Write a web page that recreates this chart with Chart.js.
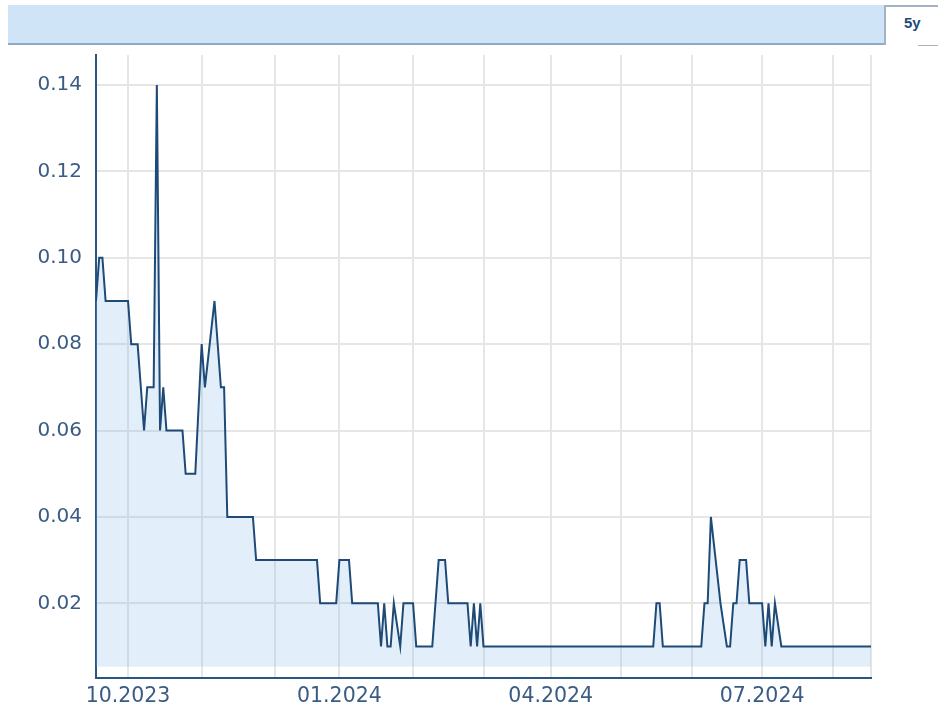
<!DOCTYPE html>
<html>
<head>
<meta charset="utf-8">
<script src="https://cdn.jsdelivr.net/npm/chart.js@4.4.1/dist/chart.umd.min.js"></script>
<style>
  html, body { margin: 0; padding: 0; background: #ffffff; }
  #wrap { position: relative; width: 938px; height: 720px; overflow: hidden; }
  #c { position: absolute; left: 0; top: 0; }
  #bar { position: absolute; left: 8px; top: 5px; width: 876px; height: 38px;
         background: #cfe5f7; border-bottom: 2px solid #8eaac6; }
  #tab { position: absolute; left: 884px; top: 5px; width: 54px; height: 40px;
         background: #ffffff; border-top: 2px solid #a3b3c3; border-left: 2px solid #a3b3c3; box-sizing: border-box; }
  #tab span { position: absolute; left: 18px; top: 7px; font: bold 15px "Liberation Sans", Arial, sans-serif; color: #1c4a7c; }
  #tabline { position: absolute; left: 918px; top: 45px; width: 20px; height: 1px; background: #a3b3c3; }
</style>
</head>
<body>
<div id="wrap">
  <canvas id="c" width="938" height="720"></canvas>
  <div id="bar"></div>
  <div id="tab"><span>5y</span></div>
  <div id="tabline"></div>
</div>
<script>
// Trading-day index of each change point and the price at that point
const dayIndex = [0,1,2,3,10,11,13,15,16,18,19,20,21,22,27,28,31,33,34,37,
                  39,40,41,49,50,69,70,75,76,79,80,88,89,90,91,92,93,95,96,99,
                  100,105,107,109,110,116,117,118,119,120,121,174,175,176,177,189,190,191,192,195,
                  197,198,199,200,201,203,204,208,209,210,211,212,214,242];
const price = [0.09,0.10,0.10,0.09,0.09,0.08,0.08,0.06,0.07,0.07,0.14,0.06,0.07,0.06,0.06,0.05,0.05,0.08,0.07,0.09,
               0.07,0.07,0.04,0.04,0.03,0.03,0.02,0.02,0.03,0.03,0.02,0.02,0.01,0.02,0.01,0.01,0.02,0.01,0.02,0.02,
               0.01,0.01,0.03,0.03,0.02,0.02,0.01,0.02,0.01,0.02,0.01,0.01,0.02,0.02,0.01,0.01,0.02,0.02,0.04,0.02,
               0.01,0.01,0.02,0.02,0.03,0.03,0.02,0.02,0.01,0.02,0.01,0.02,0.01,0.01];
// First trading day of each month (grid lines) and their labels
const monthStart = [10,33,56,76,99,121,142,164,186,208,230];
const monthLabel = ['10.2023','11.2023','12.2023','01.2024','02.2024','03.2024','04.2024','05.2024','06.2024','07.2024','08.2024'];
const shownLabels = ['10.2023','01.2024','04.2024','07.2024'];
const yTickValues = [0.02,0.04,0.06,0.08,0.10,0.12,0.14];
const lastDay = 242;

const points = dayIndex.map((d, i) => ({ x: d, y: price[i] }));
const labelColor = '#3a5c84';
const axisColor = '#2a5682';
const gridColor = '#e6e6e6';

new Chart(document.getElementById('c'), {
  type: 'line',
  data: {
    datasets: [{
      data: points,
      borderColor: '#1d4a77',
      borderWidth: 2,
      backgroundColor: 'rgba(130,185,235,0.23)',
      fill: { value: 0.00532 },
      pointRadius: 0,
      tension: 0
    }]
  },
  options: {
    responsive: false,
    devicePixelRatio: 1,
    animation: false,
    layout: { padding: { left: 0, right: 67, top: 55, bottom: 0 } },
    plugins: { legend: { display: false }, tooltip: { enabled: false } },
    scales: {
      x: {
        type: 'linear',
        min: 0,
        max: lastDay,
        afterFit: s => { s.height = 42.5; },
        afterBuildTicks: s => {
          s.ticks = monthStart.map(v => ({ value: v })).concat([{ value: lastDay }]);
        },
        grid: { color: gridColor, lineWidth: 2, drawTicks: false },
        border: { color: axisColor, width: 2 },
        ticks: {
          autoSkip: false,
          maxRotation: 0,
          padding: 7,
          color: labelColor,
          font: { family: 'DejaVu Sans', size: 20.5 },
          callback: (v) => {
            const i = monthStart.indexOf(v);
            if (i < 0) return '';
            return shownLabels.includes(monthLabel[i]) ? monthLabel[i] : '';
          }
        }
      },
      y: {
        min: 0.00282,
        max: 0.14695,
        afterFit: s => { s.width = 96; },
        afterBuildTicks: s => { s.ticks = yTickValues.map(v => ({ value: v })); },
        grid: { color: gridColor, lineWidth: 2, drawTicks: false },
        border: { color: axisColor, width: 2 },
        ticks: {
          padding: 14,
          color: labelColor,
          font: { family: 'DejaVu Sans', size: 20 },
          callback: v => Number(v).toFixed(2)
        }
      }
    }
  }
});
</script>
</body>
</html>
